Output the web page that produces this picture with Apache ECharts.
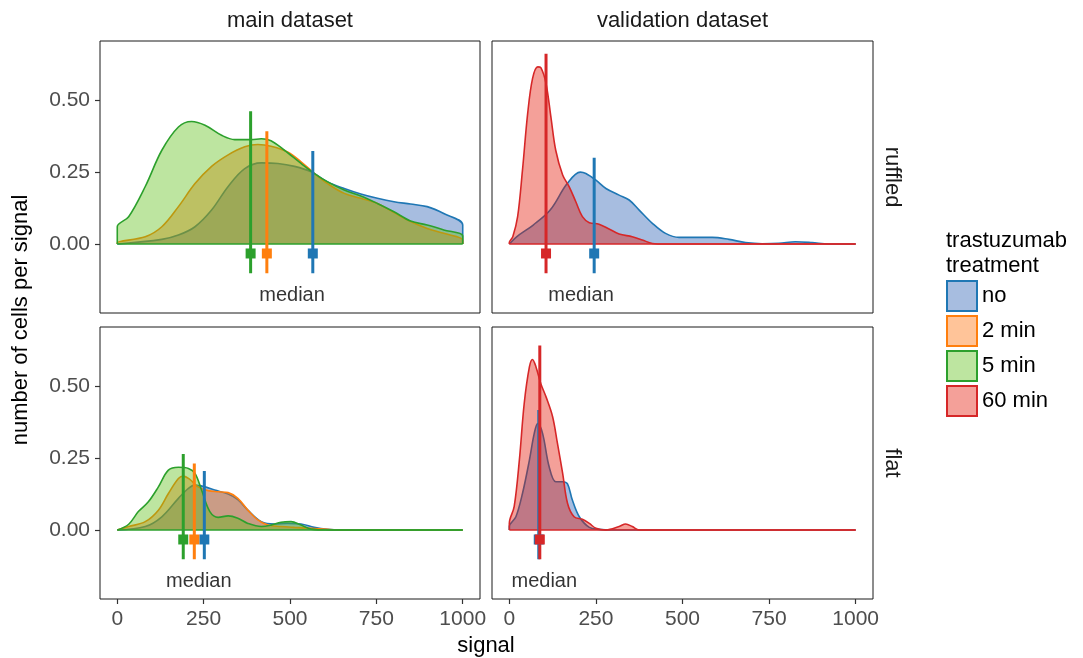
<!DOCTYPE html>
<html><head><meta charset="utf-8">
<script src="https://cdn.jsdelivr.net/npm/echarts@6/dist/echarts.min.js"></script>
<style>html,body{margin:0;padding:0;background:#fff}#c{width:1083px;height:658px}</style>
</head><body><div id="c"></div>
<script>
// ---------- data ----------
const treatments = ['no', '2 min', '5 min', '60 min'];
const colLabels = ['main dataset', 'validation dataset'];
const rowLabels = ['ruffled', 'flat'];
const xTicks = [0, 250, 500, 750, 1000];
const yTicks = [0, 0.25, 0.5];

// density curves [signal, density]
const mainRuffledNo = [[0,0],[129,0.016],[177,0.031],[225,0.06],[273,0.118],[321,0.2],[369,0.262],[417,0.282],[465,0.28],[513,0.27],[561,0.251],[609,0.216],[657,0.193],[705,0.174],[753,0.159],[801,0.147],[849,0.139],[897,0.13],[945,0.106],[1000,0.066],[1000,0]];
const mainRuffled2 = [[0,0],[0,0.004],[81,0.025],[129,0.06],[177,0.13],[225,0.21],[273,0.27],[321,0.31],[369,0.338],[407,0.346],[445,0.34],[493,0.32],[532,0.286],[571,0.245],[609,0.21],[657,0.176],[705,0.159],[753,0.141],[801,0.109],[849,0.078],[897,0.054],[945,0.037],[1000,0.014],[1000,0]];
const mainRuffled5 = [[0,0],[0,0.06],[33,0.095],[81,0.2],[129,0.326],[177,0.407],[215,0.426],[254,0.413],[302,0.378],[340,0.363],[388,0.363],[417,0.366],[445,0.359],[484,0.326],[532,0.28],[571,0.245],[609,0.216],[657,0.1875],[705,0.167],[753,0.141],[801,0.112],[849,0.08],[897,0.066],[945,0.049],[1000,0.028],[1000,0]];
const validRuffledNo = [[0,0],[0,0.002],[21,0.025],[69,0.066],[118,0.118],[167,0.21],[205,0.25],[221,0.245],[250,0.222],[279,0.193],[317,0.17],[346,0.153],[375,0.118],[413,0.072],[451,0.037],[490,0.023],[538,0.023],[586,0.023],[634,0.016],[682,0.005],[730,0.001],[778,0.002],[826,0.008],[874,0.005],[922,0],[1000,0]];
const validRuffled60 = [[0,0],[0,0.005],[10,0.025],[24,0.095],[38,0.257],[53,0.454],[67,0.575],[82,0.616],[91,0.613],[106,0.558],[120,0.442],[134,0.326],[154,0.24],[173,0.199],[192,0.147],[211,0.095],[231,0.074],[259,0.069],[288,0.052],[317,0.035],[355,0.025],[384,0.014],[413,0.002],[450,0],[1000,0]];
const mainFlatNo = [[0,0],[81,0.012],[129,0.046],[177,0.11],[206,0.145],[225,0.156],[254,0.15],[282,0.139],[321,0.125],[349,0.106],[378,0.069],[417,0.029],[455,0.021],[493,0.023],[532,0.021],[570,0.009],[609,0.002],[650,0],[1000,0]];
const mainFlat2 = [[0,0],[33,0.012],[81,0.029],[119,0.069],[148,0.127],[177,0.179],[191,0.1875],[210,0.176],[234,0.15],[263,0.137],[292,0.133],[321,0.13],[349,0.11],[378,0.069],[407,0.035],[436,0.017],[474,0.012],[513,0.009],[561,0.006],[609,0.002],[650,0],[1000,0]];
const mainFlat5 = [[0,0],[33,0.02],[61,0.064],[90,0.098],[119,0.15],[148,0.208],[177,0.218],[206,0.214],[225,0.197],[244,0.139],[268,0.064],[292,0.044],[321,0.049],[349,0.041],[378,0.023],[417,0.012],[445,0.017],[474,0.027],[503,0.029],[532,0.017],[561,0.003],[609,0],[1000,0]];
const validFlatNo = [[0,0],[0,0.012],[19,0.046],[38,0.127],[58,0.243],[72,0.336],[82,0.37],[96,0.336],[115,0.22],[134,0.168],[154,0.168],[168,0.16],[182,0.104],[202,0.046],[231,0.009],[259,0.002],[300,0],[1000,0]];
const validFlat60 = [[0,0],[0,0.023],[14,0.081],[29,0.243],[43,0.44],[58,0.567],[67,0.593],[77,0.567],[91,0.509],[106,0.463],[125,0.394],[139,0.301],[154,0.197],[168,0.093],[187,0.046],[211,0.037],[231,0.023],[250,0.006],[279,0],[317,0.012],[336,0.021],[355,0.012],[375,0],[1000,0]];

// medians: [treatment index, median signal, top of marker line]
const mainRuffledMedians = [[0,566,0.323],[1,433,0.392],[2,386,0.462]];
const validRuffledMedians = [[0,245,0.30],[3,106,0.662]];
const mainFlatMedians = [[0,252,0.205],[1,223,0.231],[2,191,0.264]];
const validFlatMedians = [[0,85,0.417],[3,88,0.642]];
const medianLineBottom = -0.102;
const medianPointY = -0.033;
const medianLabelY = -0.18;
const medianLabelX = [506, 207, 236, 101];

// ---------- styling ----------
const lineColors = ['#1f77b4', '#ff7f0e', '#2ca02c', '#d62728'];
const fillColors = ['rgba(35,90,178,0.4)', 'rgba(255,108,0,0.4)', 'rgba(90,190,17,0.4)', 'rgba(227,17,0,0.4)'];
const FONT = 'Liberation Sans, Arial, Helvetica, sans-serif';

const panels = [
  {dens: [[0, mainRuffledNo], [1, mainRuffled2], [2, mainRuffled5]], med: mainRuffledMedians, top: 2},
  {dens: [[0, validRuffledNo], [3, validRuffled60]], med: validRuffledMedians, top: 3},
  {dens: [[0, mainFlatNo], [1, mainFlat2], [2, mainFlat5]], med: mainFlatMedians, top: 2},
  {dens: [[0, validFlatNo], [3, validFlat60]], med: validFlatMedians, top: 3}
];
const gridBoxes = [
  {left: 100, top: 41, width: 380, height: 272},
  {left: 492, top: 41, width: 381, height: 272},
  {left: 100, top: 327, width: 380, height: 272},
  {left: 492, top: 327, width: 381, height: 272}
];

const grid = gridBoxes.map(g => Object.assign({show: true, borderColor: '#1a1a1a', borderWidth: 1, backgroundColor: 'transparent', containLabel: false}, g));
const xAxis = gridBoxes.map((g, i) => ({
  type: 'value', gridIndex: i, min: -50, max: 1050, position: 'bottom',
  axisLine: {show: false, onZero: false}, splitLine: {show: false},
  axisTick: {show: i >= 2, customValues: xTicks, length: 5, lineStyle: {color: '#333', width: 1.2}},
  axisLabel: {show: i >= 2, customValues: xTicks, color: '#4d4d4d', fontSize: 21, fontFamily: FONT, margin: 10,
    formatter: v => String(v)}
}));
const yAxis = gridBoxes.map((g, i) => ({
  type: 'value', gridIndex: i, min: -0.24, max: 0.706, position: 'left',
  axisLine: {show: false, onZero: false}, splitLine: {show: false},
  axisTick: {show: i % 2 === 0, customValues: yTicks, length: 5, lineStyle: {color: '#333', width: 1.2}},
  axisLabel: {show: i % 2 === 0, customValues: yTicks, color: '#4d4d4d', fontSize: 21, fontFamily: FONT, margin: 10,
    formatter: v => v.toFixed(2)}
}));

const series = [];
panels.forEach((p, i) => {
  p.dens.forEach(([t, d], k) => {
    series.push({
      type: 'line', name: treatments[t], xAxisIndex: i, yAxisIndex: i, data: d,
      smooth: 0.35, symbol: 'none', z: 2 + k, silent: true,
      lineStyle: {color: lineColors[t], width: 1.6},
      itemStyle: {color: lineColors[t]},
      areaStyle: {color: fillColors[t], opacity: 1}
    });
  });
  series.push({
    type: 'line', name: treatments[p.top], xAxisIndex: i, yAxisIndex: i, data: [[0, 0], [1000, 0]],
    symbol: 'none', z: 6, silent: true, lineStyle: {color: lineColors[p.top], width: 1.6}, itemStyle: {color: lineColors[p.top]}
  });
  p.med.forEach(([t, x, top]) => {
    series.push({
      type: 'line', name: treatments[t], xAxisIndex: i, yAxisIndex: i,
      data: [[x, medianLineBottom], [x, top]], symbol: 'none', z: 7, silent: true,
      lineStyle: {color: lineColors[t], width: 3}, itemStyle: {color: lineColors[t]}
    });
  });
  p.med.forEach(([t, x]) => {
    series.push({
      type: 'scatter', name: treatments[t], xAxisIndex: i, yAxisIndex: i,
      data: [[x, medianPointY]], symbol: 'rect', symbolSize: 10, z: 8, silent: true,
      itemStyle: {color: lineColors[t], opacity: 1}
    });
  });
  series.push({
    type: 'scatter', name: 'median label', xAxisIndex: i, yAxisIndex: i,
    data: [[medianLabelX[i], medianLabelY]], symbolSize: 1, z: 9, silent: true,
    itemStyle: {color: 'rgba(0,0,0,0)'},
    label: {show: true, formatter: 'median', position: 'inside', fontSize: 20, fontFamily: FONT, color: '#000'}
  });
});

const txt = (text, x, y, extra) => Object.assign({
  type: 'text', x: x, y: y, silent: true,
  style: {text: text, fontSize: 22, fontFamily: FONT, fill: '#1a1a1a', align: 'center', verticalAlign: 'middle'}
}, extra || {});

const graphic = [
  txt(colLabels[0], 290, 21),
  txt(colLabels[1], 682.5, 21),
  txt(rowLabels[0], 892, 177, {rotation: -Math.PI / 2}),
  txt(rowLabels[1], 892, 463, {rotation: -Math.PI / 2}),
  txt('number of cells per signal', 21, 320, {rotation: Math.PI / 2, style: {text: 'number of cells per signal', fontSize: 22, fontFamily: FONT, fill: '#000', align: 'center', verticalAlign: 'middle'}}),
  txt('signal', 486, 646, {style: {text: 'signal', fontSize: 22, fontFamily: FONT, fill: '#000', align: 'center', verticalAlign: 'middle'}}),
  {type: 'text', x: 946, y: 253, silent: true,
   style: {text: 'trastuzumab\ntreatment', fontSize: 22, lineHeight: 25, fontFamily: FONT, fill: '#000', align: 'left', verticalAlign: 'middle'}}
];

const chart = echarts.init(document.getElementById('c'), null, {renderer: 'canvas'});
chart.setOption({
  animation: false,
  backgroundColor: '#fff',
  textStyle: {fontFamily: FONT},
  grid, xAxis, yAxis, series, graphic,
  legend: {
    orient: 'vertical', left: 946, top: 280, itemWidth: 30, itemHeight: 30, itemGap: 3,
    icon: 'rect', padding: 0, selectedMode: true,
    textStyle: {fontSize: 22, fontFamily: FONT, color: '#000'},
    data: treatments.map((t, i) => ({name: t, itemStyle: {color: fillColors[i], borderColor: lineColors[i], borderWidth: 2, opacity: 1}}))
  }
});
</script></body></html>
